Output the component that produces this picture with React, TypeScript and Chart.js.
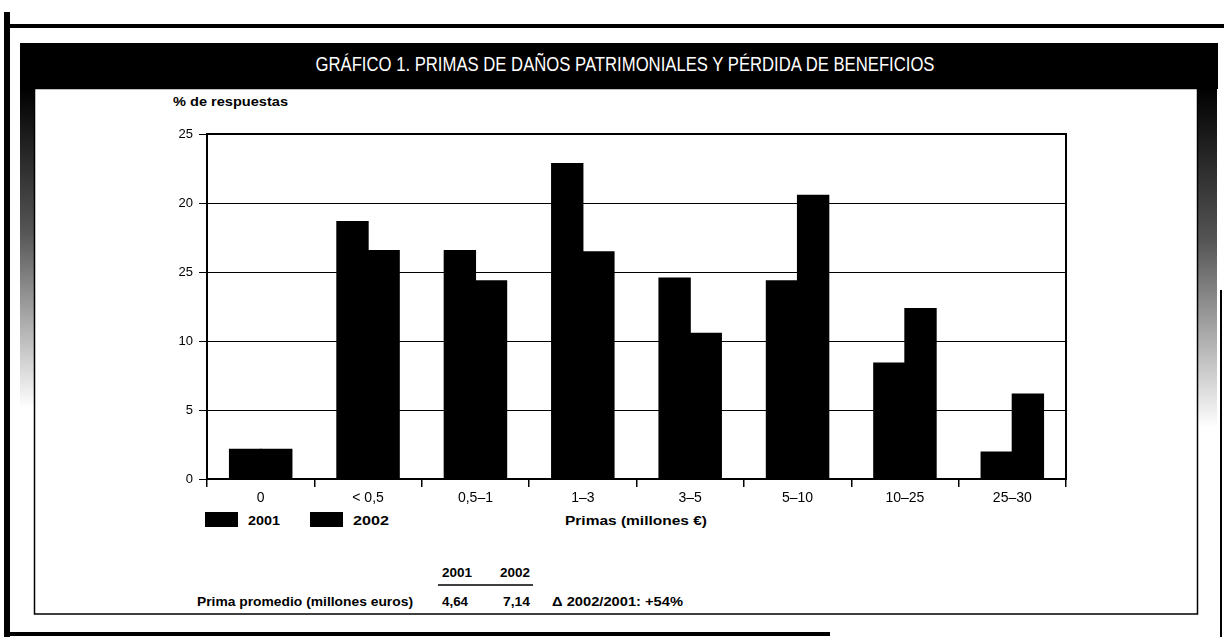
import React, { useEffect, useRef } from "react";
import { Chart, registerables } from "chart.js";

Chart.register(...registerables);

// ---- Data ----
const categories = ["0", "< 0,5", "0,5–1", "1–3", "3–5", "5–10", "10–25", "25–30"];
const values2001 = [2.2, 18.7, 16.6, 22.9, 14.6, 14.4, 8.45, 2.0];
const values2002 = [2.2, 16.6, 14.4, 16.5, 10.6, 20.6, 12.4, 6.2];
const seriesNames = ["2001", "2002"];
const yTickValues = [0, 5, 10, 15, 20, 25];
const yTickLabels = ["0", "5", "10", "25", "20", "25"]; // as printed in the original
const tableYears = ["2001", "2002"];
const tableAverages = ["4,64", "7,14"];
const tableRowLabel = "Prima promedio (millones euros)";
const tableDelta = "Δ 2002/2001: +54%";
const titleText = "GRÁFICO 1. PRIMAS DE DAÑOS PATRIMONIALES Y PÉRDIDA DE BENEFICIOS";
const yAxisTitle = "% de respuestas";
const xAxisTitle = "Primas (millones €)";

const FONT = "'Liberation Sans', Arial, Helvetica, sans-serif";

const framePlugin = {
  id: "plotFrame",
  afterDraw(chart: any) {
    const { ctx, chartArea } = chart;
    ctx.save();
    ctx.strokeStyle = "#000";
    ctx.lineWidth = 2;
    ctx.strokeRect(chartArea.left, chartArea.top, chartArea.right - chartArea.left, chartArea.bottom - chartArea.top);
    ctx.restore();
  },
};

export default function App() {
  const canvasRef = useRef<HTMLCanvasElement | null>(null);

  useEffect(() => {
    document.body.style.margin = "0";
    document.body.style.overflow = "hidden";
    const canvas = canvasRef.current;
    if (!canvas) return;
    const chart = new Chart(canvas, {
      type: "bar",
      data: {
        labels: categories,
        datasets: [
          {
            label: seriesNames[0],
            data: values2001,
            backgroundColor: "#000",
            borderWidth: 0,
            categoryPercentage: 0.58,
            barPercentage: 1.04,
          },
          {
            label: seriesNames[1],
            data: values2002,
            backgroundColor: "#000",
            borderWidth: 0,
            categoryPercentage: 0.58,
            barPercentage: 1.04,
          },
        ],
      },
      options: {
        responsive: false,
        animation: false,
        devicePixelRatio: 1,
        layout: { padding: { left: 0, top: 134, right: 158, bottom: 128 } },
        plugins: {
          legend: { display: false },
          tooltip: { enabled: false },
          title: { display: false },
        },
        scales: {
          x: {
            grid: {
              display: true,
              drawOnChartArea: false,
              drawTicks: true,
              tickLength: 8,
              color: "#000",
              lineWidth: 1.5,
              offset: true,
            },
            border: { display: true, color: "#000", width: 2 },
            ticks: {
              color: "#000",
              font: { family: FONT, size: 14 },
              padding: 3,
              maxRotation: 0,
              autoSkip: false,
            },
            afterFit: (s: any) => {
              s.height = 30;
            },
          },
          y: {
            min: 0,
            max: 25,
            ticks: {
              stepSize: 5,
              color: "#000",
              font: { family: FONT, size: 13 },
              padding: 6,
              callback: (value: any) => {
                const i = yTickValues.indexOf(Number(value));
                return i >= 0 ? yTickLabels[i] : String(value);
              },
            },
            grid: { color: "#000", lineWidth: 1, drawTicks: true, tickLength: 8 },
            border: { display: true, color: "#000", width: 2 },
            afterFit: (s: any) => {
              s.width = 207;
            },
          },
        },
      },
      plugins: [framePlugin],
    } as any);
    return () => chart.destroy();
  }, []);

  return (
    <div style={{ position: "absolute", left: 0, top: 0, width: 1224, height: 637, background: "#fff", overflow: "hidden" }}>
      <svg width={1224} height={637} style={{ position: "absolute", left: 0, top: 0 }}>
        <defs>
          <linearGradient id="fadeL" x1="0" y1="0" x2="0" y2="1">
            <stop offset="0" stopColor="#000" />
            <stop offset="0.45" stopColor="#555" />
            <stop offset="1" stopColor="#fff" />
          </linearGradient>
        </defs>
        {/* outer frame */}
        <rect x={4} y={12} width={6} height={625} fill="#000" />
        <rect x={4} y={24} width={1220} height={4} fill="#000" />
        <rect x={4} y={632} width={826} height={4} fill="#000" />
        <rect x={1220} y={290} width={2} height={347} fill="#000" />
        {/* title band */}
        <rect x={20} y={43} width={1198} height={46} fill="#000" />
        <rect x={20} y={88} width={15} height={320} fill="url(#fadeL)" />
        <rect x={1198} y={88} width={19} height={340} fill="url(#fadeL)" />
        {/* inner box */}
        <rect x={34.5} y={88.5} width={1163} height={525.5} fill="#fff" stroke="#000" strokeWidth={1.5} />
        <text x={625} y={71} fill="#fff" textAnchor="middle" textLength={619} lengthAdjust="spacingAndGlyphs"
          style={{ fontFamily: FONT, fontSize: 20.5 }}>{titleText}</text>
        {/* y axis title */}
        <text x={173} y={106} textLength={115} lengthAdjust="spacingAndGlyphs"
          style={{ fontFamily: FONT, fontSize: 12.5, fontWeight: 700 }}>{yAxisTitle}</text>
        {/* legend */}
        <rect x={205} y={512} width={33} height={15} fill="#000" />
        <text x={248} y={525} textLength={32} lengthAdjust="spacingAndGlyphs"
          style={{ fontFamily: FONT, fontSize: 13.5, fontWeight: 700 }}>{seriesNames[0]}</text>
        <rect x={310} y={512} width={33} height={15} fill="#000" />
        <text x={353} y={525} textLength={36} lengthAdjust="spacingAndGlyphs"
          style={{ fontFamily: FONT, fontSize: 13.5, fontWeight: 700 }}>{seriesNames[1]}</text>
        {/* x axis title */}
        <text x={565} y={525} textLength={142} lengthAdjust="spacingAndGlyphs"
          style={{ fontFamily: FONT, fontSize: 13, fontWeight: 700 }}>{xAxisTitle}</text>
        {/* table */}
        <text x={442} y={577} textLength={30} lengthAdjust="spacingAndGlyphs"
          style={{ fontFamily: FONT, fontSize: 12.5, fontWeight: 700 }}>{tableYears[0]}</text>
        <text x={500} y={577} textLength={30} lengthAdjust="spacingAndGlyphs"
          style={{ fontFamily: FONT, fontSize: 12.5, fontWeight: 700 }}>{tableYears[1]}</text>
        <line x1={438} y1={585} x2={533} y2={585} stroke="#000" strokeWidth={1.5} />
        <text x={197} y={606} textLength={216} lengthAdjust="spacingAndGlyphs"
          style={{ fontFamily: FONT, fontSize: 12.5, fontWeight: 700 }}>{tableRowLabel}</text>
        <text x={442} y={606} textLength={26} lengthAdjust="spacingAndGlyphs"
          style={{ fontFamily: FONT, fontSize: 12.5, fontWeight: 700 }}>{tableAverages[0]}</text>
        <text x={503} y={606} textLength={27} lengthAdjust="spacingAndGlyphs"
          style={{ fontFamily: FONT, fontSize: 12.5, fontWeight: 700 }}>{tableAverages[1]}</text>
        <text x={552} y={606} textLength={131} lengthAdjust="spacingAndGlyphs"
          style={{ fontFamily: FONT, fontSize: 12.5, fontWeight: 700 }}>{tableDelta}</text>
      </svg>
      <canvas ref={canvasRef} width={1224} height={637}
        style={{ position: "absolute", left: 0, top: 0, width: 1224, height: 637 }} />
    </div>
  );
}
